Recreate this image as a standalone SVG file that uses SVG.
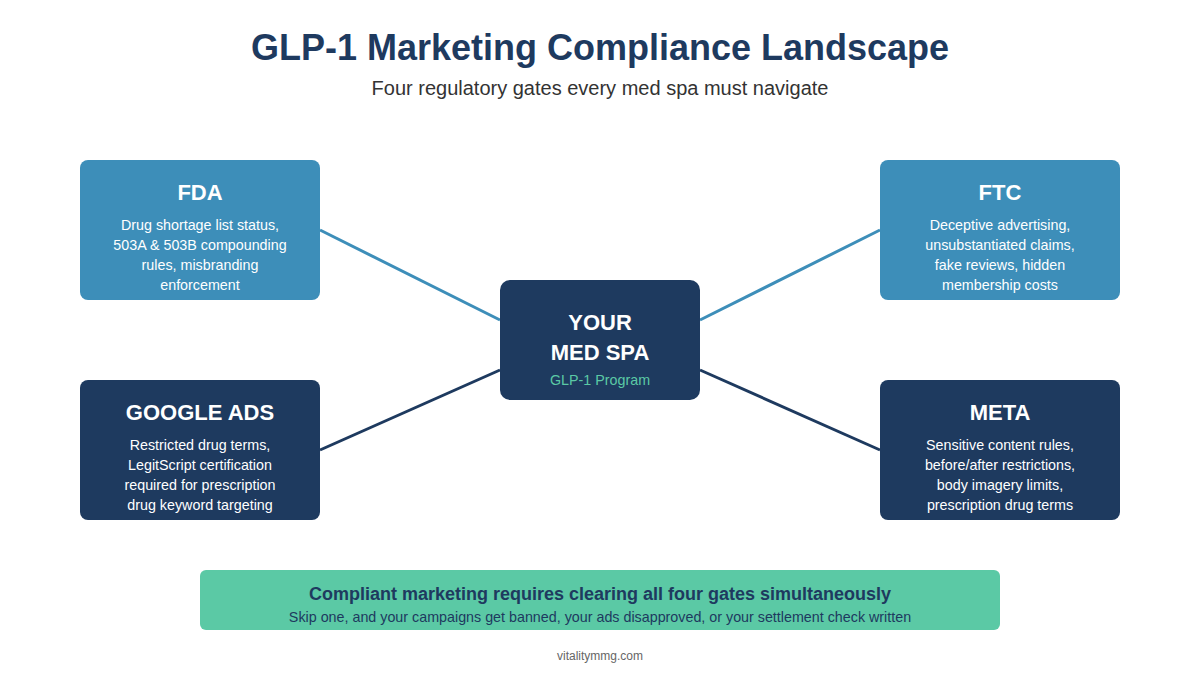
<svg xmlns="http://www.w3.org/2000/svg" width="1200" height="675" viewBox="0 0 1200 675">
<style>
text{font-family:"Liberation Sans",Arial,sans-serif;text-anchor:middle}
.title{font-size:36px;font-weight:bold;fill:#1e3a5f}
.sub{font-size:20px;fill:#333}
.ht{font-size:22px;font-weight:bold;fill:#fff}
.bt{font-size:14.3px;fill:#fff}
.light{fill:#3d8eb9}
.dark{fill:#1e3a5f}
.conn{stroke-width:3;fill:none}
</style>
<rect width="1200" height="675" fill="#fff"/>
<text class="title" x="600" y="60">GLP-1 Marketing Compliance Landscape</text>
<text class="sub" x="600" y="95">Four regulatory gates every med spa must navigate</text>
<g id="connectors">
<line class="conn" x1="320" y1="230" x2="500" y2="320" stroke="#3d8eb9"/>
<line class="conn" x1="880" y1="230" x2="700" y2="320" stroke="#3d8eb9"/>
<line class="conn" x1="320" y1="450" x2="500" y2="370" stroke="#1e3a5f"/>
<line class="conn" x1="880" y1="450" x2="700" y2="370" stroke="#1e3a5f"/>
</g>
<g id="fda">
<rect class="light" x="80" y="160" width="240" height="140" rx="8"/>
<text class="ht" x="200" y="200">FDA</text>
<text class="bt" x="200" y="230">Drug shortage list status,</text>
<text class="bt" x="200" y="250">503A &amp; 503B compounding</text>
<text class="bt" x="200" y="270">rules, misbranding</text>
<text class="bt" x="200" y="290">enforcement</text>
</g>
<g id="ftc">
<rect class="light" x="880" y="160" width="240" height="140" rx="8"/>
<text class="ht" x="1000" y="200">FTC</text>
<text class="bt" x="1000" y="230">Deceptive advertising,</text>
<text class="bt" x="1000" y="250">unsubstantiated claims,</text>
<text class="bt" x="1000" y="270">fake reviews, hidden</text>
<text class="bt" x="1000" y="290">membership costs</text>
</g>
<g id="google">
<rect class="dark" x="80" y="380" width="240" height="140" rx="8"/>
<text class="ht" x="200" y="420">GOOGLE ADS</text>
<text class="bt" x="200" y="450">Restricted drug terms,</text>
<text class="bt" x="200" y="470">LegitScript certification</text>
<text class="bt" x="200" y="490">required for prescription</text>
<text class="bt" x="200" y="510">drug keyword targeting</text>
</g>
<g id="meta">
<rect class="dark" x="880" y="380" width="240" height="140" rx="8"/>
<text class="ht" x="1000" y="420">META</text>
<text class="bt" x="1000" y="450">Sensitive content rules,</text>
<text class="bt" x="1000" y="470">before/after restrictions,</text>
<text class="bt" x="1000" y="490">body imagery limits,</text>
<text class="bt" x="1000" y="510">prescription drug terms</text>
</g>
<g id="center">
<rect class="dark" x="500" y="280" width="200" height="120" rx="10"/>
<text class="ht" x="600" y="330">YOUR</text>
<text class="ht" x="600" y="360">MED SPA</text>
<text x="600" y="385" style="font-size:14.3px;fill:#5bc9a5">GLP-1 Program</text>
</g>
<g id="banner">
<rect x="200" y="570" width="800" height="60" rx="6" fill="#5bc9a5"/>
<text x="600" y="600" style="font-size:18px;font-weight:bold;fill:#1e3a5f">Compliant marketing requires clearing all four gates simultaneously</text>
<text x="600" y="622" style="font-size:14.3px;fill:#1e3a5f">Skip one, and your campaigns get banned, your ads disapproved, or your settlement check written</text>
</g>
<text x="600" y="660" style="font-size:12px;fill:#666">vitalitymmg.com</text>
</svg>
